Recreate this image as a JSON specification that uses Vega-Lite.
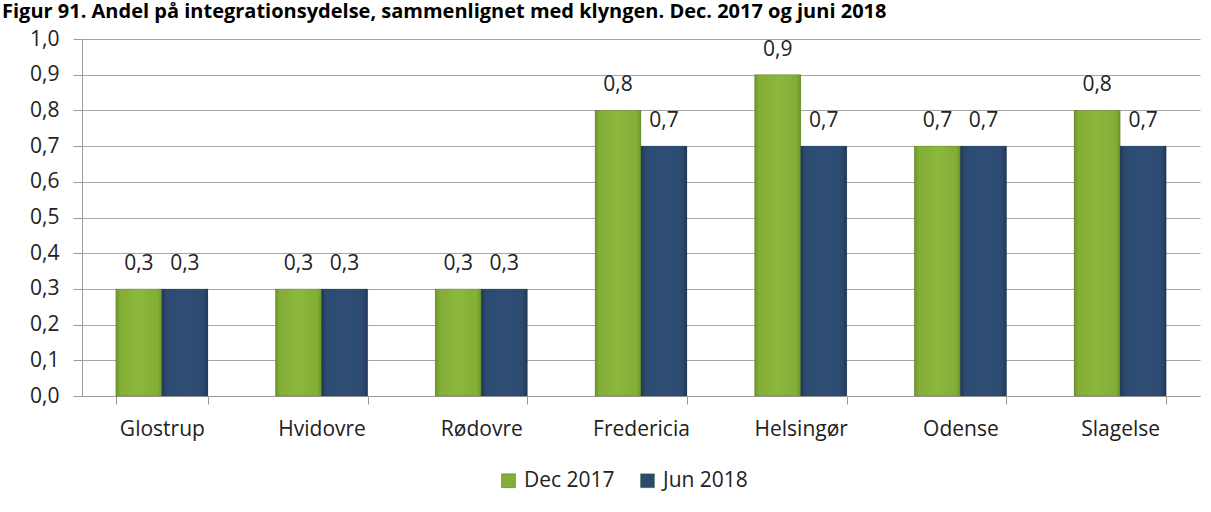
{
  "$schema": "https://vega.github.io/schema/vega-lite/v6.json",
  "description": "Andel på integrationsydelse, grouped bars",
  "autosize": {"type": "none"},
  "width": 1118,
  "height": 357,
  "padding": {"left": 82, "top": 39, "right": 11, "bottom": 116},
  "background": "white",
  "title": {
    "text": "Figur 91. Andel på integrationsydelse, sammenlignet med klyngen. Dec. 2017 og juni 2018",
    "anchor": "start",
    "frame": "group",
    "baseline": "alphabetic",
    "offset": 12,
    "dy": 22,
    "dx": -80,
    "font": "Open Sans",
    "fontSize": 20,
    "fontWeight": "bold",
    "color": "#000000"
  },
  "data": {
    "values": [
      {"kommune": "Glostrup", "periode": "Dec 2017", "andel": 0.3},
      {"kommune": "Glostrup", "periode": "Jun 2018", "andel": 0.3},
      {"kommune": "Hvidovre", "periode": "Dec 2017", "andel": 0.3},
      {"kommune": "Hvidovre", "periode": "Jun 2018", "andel": 0.3},
      {"kommune": "Rødovre", "periode": "Dec 2017", "andel": 0.3},
      {"kommune": "Rødovre", "periode": "Jun 2018", "andel": 0.3},
      {"kommune": "Fredericia", "periode": "Dec 2017", "andel": 0.8},
      {"kommune": "Fredericia", "periode": "Jun 2018", "andel": 0.7},
      {"kommune": "Helsingør", "periode": "Dec 2017", "andel": 0.9},
      {"kommune": "Helsingør", "periode": "Jun 2018", "andel": 0.7},
      {"kommune": "Odense", "periode": "Dec 2017", "andel": 0.7},
      {"kommune": "Odense", "periode": "Jun 2018", "andel": 0.7},
      {"kommune": "Slagelse", "periode": "Dec 2017", "andel": 0.8},
      {"kommune": "Slagelse", "periode": "Jun 2018", "andel": 0.7}
    ]
  },
  "transform": [
    {"calculate": "replace(format(datum.andel, '.1f'), '.', ',')", "as": "label"}
  ],
  "encoding": {
    "x": {
      "field": "kommune",
      "type": "nominal",
      "sort": ["Glostrup", "Hvidovre", "Rødovre", "Fredericia", "Helsingør", "Odense", "Slagelse"],
      "scale": {"paddingInner": 0.424, "paddingOuter": 0.212},
      "axis": {
        "title": null,
        "labelAngle": 0,
        "tickBand": "extent",
        "tickSize": 8,
        "labelPadding": 14,
        "domainColor": "#9a9a9a",
        "tickColor": "#9a9a9a"
      }
    },
    "xOffset": {
      "field": "periode",
      "type": "nominal",
      "scale": {"domain": ["Dec 2017", "Jun 2018"]}
    },
    "y": {
      "field": "andel",
      "type": "quantitative",
      "scale": {"domain": [0, 1], "nice": false},
      "axis": {
        "title": null,
        "values": [0, 0.1, 0.2, 0.3, 0.4, 0.5, 0.6, 0.7, 0.8, 0.9, 1.0],
        "labelExpr": "replace(format(datum.value, '.1f'), '.', ',')",
        "tickSize": 9,
        "labelPadding": 14,
        "domain": true,
        "domainColor": "#9a9a9a",
        "tickColor": "#9a9a9a",
        "gridColor": "#a6a6a6"
      }
    }
  },
  "layer": [
    {
      "mark": {"type": "bar"},
      "encoding": {
        "color": {
          "field": "periode",
          "type": "nominal",
          "scale": {"domain": ["Dec 2017", "Jun 2018"], "range": ["#84ae37", "#2c4a70"]},
          "legend": {
            "title": null,
            "orient": "none",
            "direction": "horizontal",
            "legendX": 416,
            "legendY": 431,
            "symbolType": "square",
            "symbolSize": 190,
            "symbolStrokeColor": "#3a5a20",
            "symbolStrokeWidth": 0.5,
            "labelOffset": 5,
            "columnPadding": 22,
            "labelFontSize": 21,
            "labelFont": "Open Sans",
            "labelColor": "#222222"
          }
        }
      }
    },
    {
      "transform": [{"filter": "datum.periode == 'Dec 2017'"}],
      "mark": {
        "type": "bar",
        "stroke": "#3a3a3a",
        "strokeWidth": 0.6,
        "strokeOpacity": 0.35,
        "color": {"gradient": "linear", "x1": 0, "y1": 0, "x2": 1, "y2": 0, "stops": [
          {"offset": 0, "color": "#6c9829"},
          {"offset": 0.1, "color": "#84ae37"},
          {"offset": 0.5, "color": "#8ab73c"},
          {"offset": 0.9, "color": "#84ae37"},
          {"offset": 1, "color": "#6c9829"}
        ]}
      }
    },
    {
      "transform": [{"filter": "datum.periode == 'Jun 2018'"}],
      "mark": {
        "type": "bar",
        "stroke": "#3a3a3a",
        "strokeWidth": 0.6,
        "strokeOpacity": 0.35,
        "color": {"gradient": "linear", "x1": 0, "y1": 0, "x2": 1, "y2": 0, "stops": [
          {"offset": 0, "color": "#203756"},
          {"offset": 0.1, "color": "#2c4a70"},
          {"offset": 0.5, "color": "#2f4f77"},
          {"offset": 0.9, "color": "#2c4a70"},
          {"offset": 1, "color": "#203756"}
        ]}
      }
    },
    {
      "mark": {"type": "text", "baseline": "bottom", "dy": -15, "font": "Open Sans", "fontSize": 21, "color": "#222222"},
      "encoding": {"text": {"field": "label"}}
    }
  ],
  "config": {
    "view": {"stroke": null},
    "axis": {
      "labelFont": "Open Sans",
      "labelFontSize": 21,
      "labelColor": "#222222",
      "grid": true
    },
    "axisX": {"grid": false}
  }
}
